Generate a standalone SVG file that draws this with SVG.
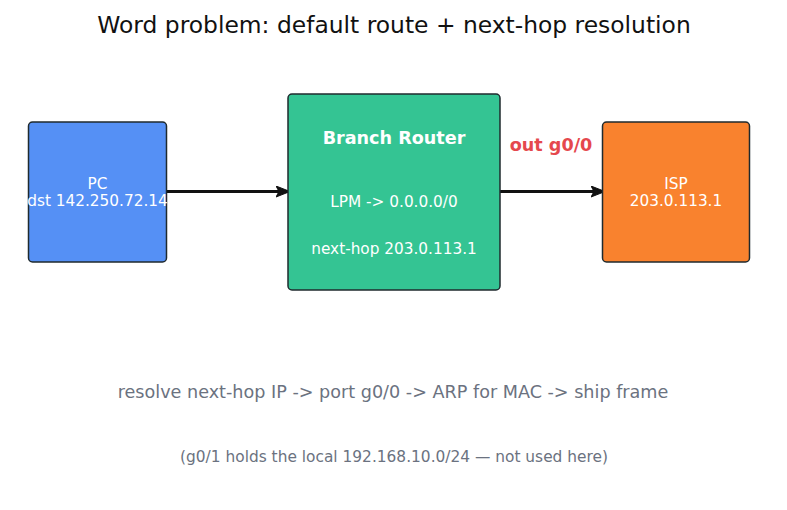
<svg xmlns="http://www.w3.org/2000/svg" width="787" height="510" viewBox="0 0 787 510">
<style>
text{font-family:"DejaVu Sans","Liberation Sans",sans-serif;text-anchor:middle}
.box{stroke:#1f2a2e;stroke-width:1.5}
.lbl{fill:#ffffff;font-size:15.3px}
.edge{stroke:#111111;stroke-width:3;fill:none}
.note{fill:#6b7280}
</style>
<defs>
<marker id="arr" markerWidth="14" markerHeight="12" refX="12" refY="6" orient="auto" markerUnits="userSpaceOnUse" viewBox="0 0 14 12">
<path d="M0,0.5 L14,6 L0,11.5 L3,6 z" fill="#111111" stroke="#111111" stroke-linejoin="round"/>
</marker>
</defs>
<rect width="787" height="510" fill="#ffffff"/>
<text x="394" y="33" font-size="23.4" fill="#111111">Word problem: default route + next-hop resolution</text>
<g id="connectors">
<line class="edge" x1="166" y1="191.5" x2="288" y2="191.5" marker-end="url(#arr)"/>
<line class="edge" x1="498" y1="191.5" x2="603" y2="191.5" marker-end="url(#arr)"/>
<text x="551" y="150.5" font-size="17.6" font-weight="bold" fill="#e5484d">out g0/0</text>
</g>
<g id="pc">
<rect class="box" x="28.5" y="122" width="138" height="140" rx="4" fill="#5590f5"/>
<text class="lbl" x="97.5" y="188.5">PC</text>
<text class="lbl" x="97.5" y="205.5">dst 142.250.72.14</text>
</g>
<g id="router">
<rect class="box" x="288" y="94" width="212" height="196" rx="4" fill="#34c493"/>
<text x="394" y="143.5" font-size="17.6" font-weight="bold" fill="#ffffff">Branch Router</text>
<text class="lbl" x="394" y="206.5">LPM -&gt; 0.0.0.0/0</text>
<text class="lbl" x="394" y="253.5">next-hop 203.0.113.1</text>
</g>
<g id="isp">
<rect class="box" x="602.5" y="122" width="147" height="140" rx="4" fill="#f9822e"/>
<text class="lbl" x="676" y="188.5">ISP</text>
<text class="lbl" x="676" y="205.5">203.0.113.1</text>
</g>
<text class="note" x="393" y="397.5" font-size="17.6">resolve next-hop IP -&gt; port g0/0 -&gt; ARP for MAC -&gt; ship frame</text>
<text class="note" x="394" y="461.5" font-size="15.4">(g0/1 holds the local 192.168.10.0/24 — not used here)</text>
</svg>
